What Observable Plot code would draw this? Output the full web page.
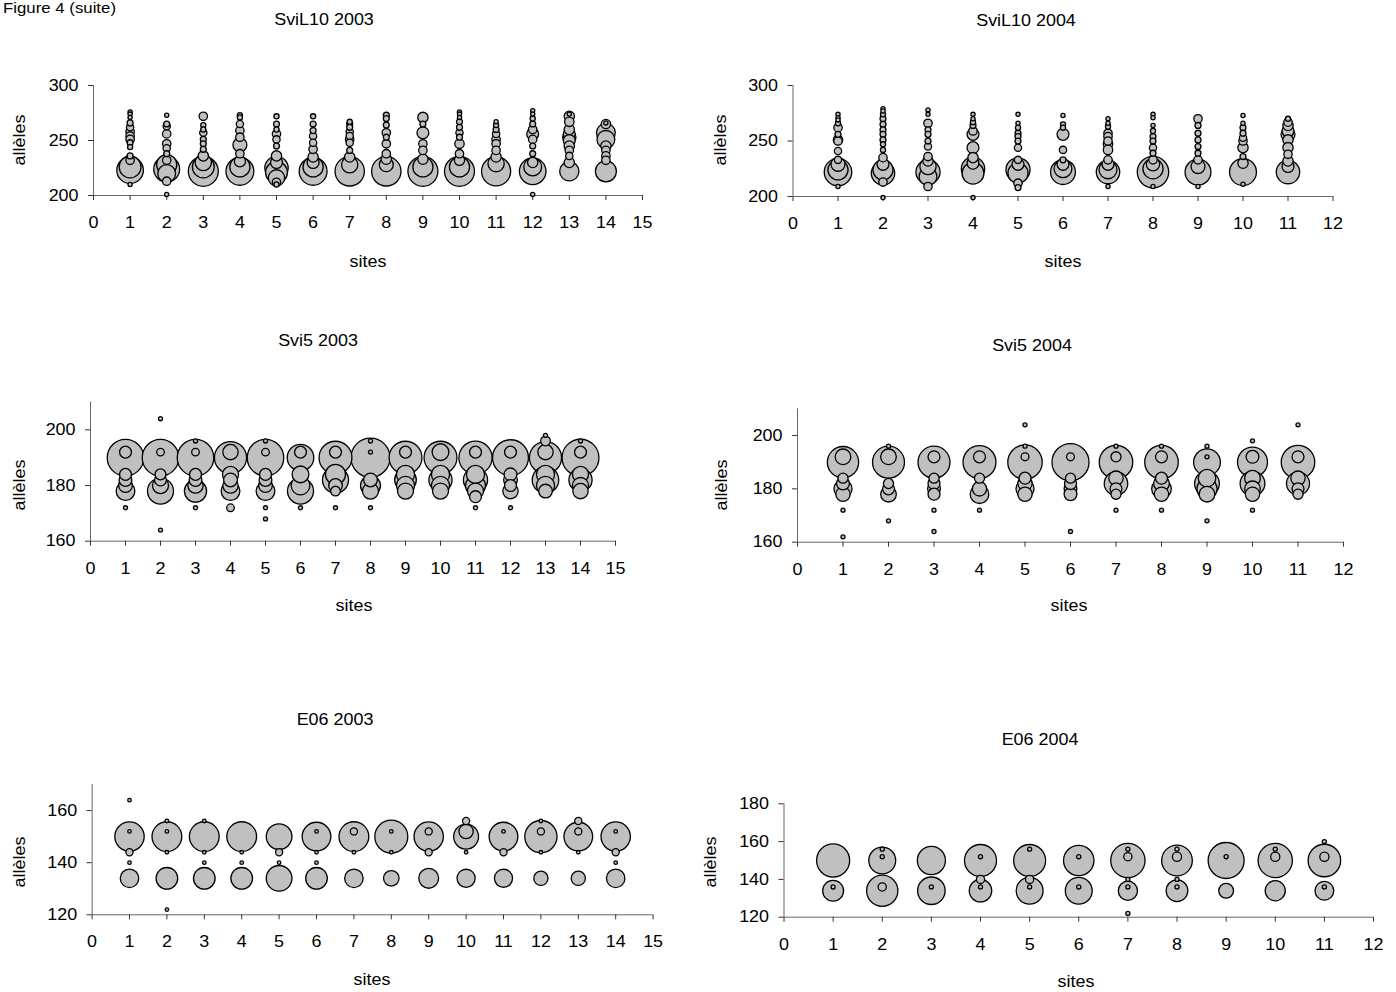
<!DOCTYPE html>
<html><head><meta charset="utf-8">
<script src="https://cdn.jsdelivr.net/npm/d3@7"></script>
<script src="https://cdn.jsdelivr.net/npm/@observablehq/plot@0.6"></script>
<style>
body{margin:0;background:#fff;font-family:"Liberation Sans",Arial,sans-serif;}
#root{position:relative;width:1396px;height:992px;overflow:hidden;background:#fff;}
#root svg{position:absolute;left:0;top:0;}
.lbl{position:absolute;font-size:16px;color:#000;white-space:nowrap;transform:translate(-50%,-50%) scaleX(1.12);}
.rot{transform:translate(-50%,-50%) rotate(-90deg) scaleX(1.12);}
.fig{position:absolute;left:3px;top:0px;font-size:15px;line-height:15px;transform-origin:0 0;transform:scaleX(1.12);white-space:nowrap;}
</style></head><body><div id="root"></div>
<script>
// Each array: one list per site (site 1, 2, ...), each entry [allele size, frequency %]
const sviL10_2003 = [
  [[276,1],[274,1],[271,1],[266,2],[262,3],[258,4],[254,4],[251,4],[248,2],[244,1.5],[236,2],[232,4],[226,27],[223,40],[210,1]],
  [[273,1],[265,2],[263,3],[256,4],[247,4],[243,3],[238,2],[232,4],[228,23],[224,38],[220,18],[213,4],[201,1]],
  [[272,4],[264,1.5],[260,1.5],[257,3],[251,2],[247,2],[242,2],[236,6],[230,15],[226,27],[222,51]],
  [[273,1.5],[271,1.5],[265,3],[259,4],[253,4],[246,11],[238,4],[231,7],[226,23],[222,44]],
  [[272,1.5],[265,2],[260,1.5],[256,4],[251,3],[245,2],[236,6],[230,8],[225,31],[221,27],[216,15],[212,4],[210,1.5]],
  [[272,1.5],[265,2],[259,2],[254,3],[248,3],[242,4],[235,6],[230,8],[226,23],[222,44]],
  [[267,1.5],[265,2],[262,2],[258,3],[254,3],[251,4],[248,3],[241,2],[235,6],[228,15],[222,49]],
  [[273,2],[270,2],[264,2],[257,4],[253,2],[247,4],[238,4],[233,6],[228,11],[222,49]],
  [[271,6],[265,2],[257,8],[247,4],[241,4],[233,6],[226,23],[222,51]],
  [[276,1],[274,1],[271,1],[267,2],[262,2],[257,3],[253,2],[247,5],[238,4],[232,6],[226,23],[222,51]],
  [[267,1],[264,1.5],[260,2],[256,3],[251,4],[247,4],[241,4],[235,6],[229,15],[222,48]],
  [[277,1],[274,1],[270,1.5],[265,2],[260,4],[256,8],[251,4],[245,2],[238,2],[230,6],[226,18],[222,40],[201,1]],
  [[274,1],[272,6],[267,5],[260,6],[256,8],[253,10],[250,8],[245,6],[241,4],[236,3],[230,6],[222,21]],
  [[266,1],[265,5],[257,20],[251,18],[245,6],[241,4],[236,4],[232,4],[222,25]]
];
const sviL10_2004 = [
  [[274,1],[271,1],[269,1],[266,1.5],[262,4],[256,2],[251,5],[250,4],[241,3],[233,3],[229,11],[224,23],[222,43],[209,1]],
  [[279,1],[277,1],[274,1.5],[270,2],[265,2],[260,2],[256,2],[251,2],[247,1.5],[242,1.5],[235,4],[229,8],[224,23],[221,31],[213,4],[199,1]],
  [[278,1],[274,1],[266,4],[260,2],[256,2],[250,2],[245,3],[236,4],[232,6],[227,15],[222,33],[218,18],[209,4]],
  [[274,1],[270,1],[267,1.5],[264,2],[259,4],[256,8],[244,8],[235,6],[230,8],[225,31],[221,27],[199,1]],
  [[274,1],[266,1],[262,1.5],[257,2],[254,2],[250,2],[244,3],[233,3],[229,8],[224,33],[221,23],[212,4],[208,2]],
  [[273,1],[265,1.5],[262,1.5],[256,8],[242,3],[233,2],[229,8],[225,18],[222,35]],
  [[270,1],[266,1],[263,1.5],[257,4],[254,4],[250,4],[247,5],[242,5],[233,4],[229,8],[224,18],[222,31],[209,1]],
  [[274,1],[271,1],[264,1],[259,1.5],[254,2],[250,2],[244,3],[239,2],[233,4],[229,10],[225,23],[222,56],[209,1]],
  [[270,4],[264,2],[257,2],[251,2],[245,2],[239,2],[233,4],[227,11],[222,38],[209,1]],
  [[273,1],[266,1],[262,2],[257,2],[253,3],[250,4],[244,6],[236,2],[230,6],[222,41],[211,1]],
  [[270,1.5],[267,4],[264,6],[259,8],[256,11],[251,6],[244,6],[238,4],[232,6],[227,8],[222,31]]
];
const svi5_2003 = [
  [[192,6],[190,57],[184,6],[182,7],[180,8],[178,15],[172,0.7]],
  [[204,0.7],[192,2.5],[190,57],[184,5],[182,6],[180,11],[178,29],[164,0.7]],
  [[196,0.7],[192,2.5],[190,57],[184,6],[182,7],[180,10],[178,21],[172,0.7]],
  [[192,10],[190,44],[184,11],[182,8],[180,10],[178,15],[172,2.5]],
  [[196,0.7],[192,2.5],[190,57],[184,6],[182,7],[180,8],[178,15],[172,0.7],[168,0.7]],
  [[192,6],[190,30],[184,12],[180,15],[178,29],[172,0.7]],
  [[192,6],[190,46],[184,17],[182,29],[180,8],[178,4],[172,0.7]],
  [[196,0.7],[192,0.7],[190,65],[182,8],[180,17],[178,11],[172,0.7]],
  [[192,6],[190,46],[184,14],[182,20],[180,14],[178,11]],
  [[192,12],[190,46],[184,14],[182,23],[180,14],[178,11]],
  [[192,6],[190,47],[184,14],[182,25],[180,17],[178,11],[176,6],[172,0.7]],
  [[192,6],[190,55],[184,7],[182,8],[180,6],[178,10],[172,0.7]],
  [[198,0.7],[196,4],[192,10],[190,44],[184,14],[182,30],[180,14],[178,8]],
  [[196,0.7],[192,6],[190,58],[184,11],[182,23],[180,11],[178,10]]
];
const svi5_2004 = [
  [[192,12],[190,48],[184,5],[182,8],[180,16],[178,10],[172,0.8],[162,0.8]],
  [[196,0.8],[192,12],[190,50],[182,5],[180,7],[178,12],[168,0.8]],
  [[192,7],[190,50],[184,5],[182,7],[180,8],[178,7],[172,0.8],[164,0.8]],
  [[192,7],[190,53],[184,5],[180,10],[178,17],[172,0.8]],
  [[204,0.8],[196,0.8],[192,3],[190,58],[184,7],[182,10],[180,16],[178,10]],
  [[192,3],[190,67],[184,5],[182,7],[180,8],[178,8],[164,0.8]],
  [[196,0.8],[192,5],[190,55],[184,10],[182,27],[180,7],[178,5],[172,0.8]],
  [[196,0.8],[192,7],[190,55],[184,7],[182,12],[180,19],[178,10],[172,0.8]],
  [[196,0.8],[192,0.8],[190,35],[184,15],[182,30],[180,20],[178,12],[168,0.8]],
  [[198,0.8],[192,8],[190,44],[184,12],[182,30],[180,12],[178,10],[172,0.8]],
  [[204,0.8],[192,7],[190,55],[184,10],[182,26],[180,7],[178,5]]
];
const e06_2003 = [
  [[164,1],[152,1],[150,68],[144,4],[140,1],[134,27]],
  [[156,1],[152,1],[150,70],[144,1],[134,37],[122,1]],
  [[156,1],[150,70],[144,1],[140,1],[134,37]],
  [[150,70],[144,1],[140,1],[134,37]],
  [[150,52],[144,4],[140,1],[134,52]],
  [[152,1],[150,65],[144,1],[140,1],[134,37]],
  [[152,4],[150,70],[144,1],[134,27]],
  [[152,1],[150,86],[144,1],[134,19]],
  [[152,4],[150,68],[144,4],[134,31]],
  [[156,4],[152,16],[150,49],[144,1],[134,26]],
  [[152,1],[150,65],[144,4],[134,26]],
  [[156,1],[152,4],[150,82],[144,1],[134,16]],
  [[156,4],[152,4],[150,65],[144,1],[134,16]],
  [[152,1],[150,68],[144,4],[140,1],[134,27]]
];
const e06_2004 = [
  [[150,65],[136,1],[134,26]],
  [[156,1],[152,1],[150,43],[136,4],[134,58]],
  [[150,47],[136,1],[134,45]],
  [[152,1],[150,61],[140,4],[136,1],[134,30]],
  [[156,1],[150,61],[140,4],[136,1],[134,43]],
  [[152,1],[150,55],[136,1],[134,43]],
  [[156,1],[152,4],[150,70],[140,1],[136,1],[134,22],[122,1]],
  [[156,1],[152,5],[150,56],[140,1],[136,1],[134,28]],
  [[152,1],[150,77],[134,13]],
  [[156,1],[152,5],[150,70],[134,24]],
  [[160,1],[152,5],[150,63],[136,1],[134,21]]
];
const xTicks15 = [0,1,2,3,4,5,6,7,8,9,10,11,12,13,14,15];
const xTicks12 = [0,1,2,3,4,5,6,7,8,9,10,11,12];
const yTicksSviL10 = [200,250,300];
const yTicksSvi5 = [160,180,200];
const yTicksE06a = [120,140,160];
const yTicksE06b = [120,140,160,180];

const W = 1396, H = 992;
const root = document.getElementById("root");
const STRETCH = 1.12;

function rowsOf(arr){
  return arr.flatMap((list, i) => list.map(([allele, freq]) => ({site: i + 1, allele, freq})));
}

function label(text, x, y, cls){
  const d = document.createElement("div");
  d.className = "lbl" + (cls ? " " + cls : "");
  d.style.left = x + "px"; d.style.top = y + "px";
  d.textContent = text;
  root.appendChild(d);
}

function panel(data, c){
  const svg = Plot.plot({
    width: W, height: H,
    marginLeft: c.x0, marginRight: W - c.x1,
    marginTop: c.yTop, marginBottom: H - c.yBot,
    x: {domain: [0, c.xTicks[c.xTicks.length - 1]]},
    y: {domain: c.yDomain},
    r: {type: "sqrt", domain: [0, 100], range: [0, c.rk]},
    style: {fontFamily: "Liberation Sans, Arial, sans-serif", fontSize: "16px", background: "transparent", color: "#000", overflow: "visible"},
    marks: [
      Plot.ruleY([c.yDomain[0]], {stroke: "#666", strokeWidth: 1}),
      Plot.ruleX([0], {y1: c.yDomain[0], y2: c.yDomain[1], stroke: "#666", strokeWidth: 1}),
      Plot.axisX({ticks: c.xTicks, tickSize: 5, tickPadding: 16, label: null, tickFormat: d => String(d), stroke: "#333"}),
      Plot.axisY({ticks: c.yTicks, tickSize: 5, tickPadding: 10, label: null, tickFormat: d => String(d), stroke: "#333"}),
      Plot.dot(rowsOf(data), {x: "site", y: "allele", r: "freq", fill: "#c0c0c0", stroke: "#000", strokeWidth: 1.3})
    ]
  });
  d3.select(svg).selectAll('g[aria-label$="tick label"] text').each(function(){
    const t = this.getAttribute("transform") || "";
    this.setAttribute("transform", t + " scale(" + STRETCH + ",1)");
  });
  root.appendChild(svg);
  label(c.title, c.title_xy[0], c.title_xy[1]);
  label("sites", c.sites_xy[0], c.sites_xy[1]);
  label("allèles", c.yl_xy[0], c.yl_xy[1], "rot");
}

const fig = document.createElement("div");
fig.className = "fig"; fig.textContent = "Figure 4 (suite)";
root.appendChild(fig);

panel(sviL10_2003, {title: "SviL10 2003", x0: 93, x1: 642, yTop: 85, yBot: 195, yDomain: [200, 300], xTicks: xTicks15, yTicks: yTicksSviL10, rk: 21,
  title_xy: [324, 20], sites_xy: [368, 262], yl_xy: [20, 140]});
panel(sviL10_2004, {title: "SviL10 2004", x0: 792.5, x1: 1332.5, yTop: 85, yBot: 196, yDomain: [200, 300], xTicks: xTicks12, yTicks: yTicksSviL10, rk: 21,
  title_xy: [1026, 21], sites_xy: [1063, 262], yl_xy: [721, 140]});
panel(svi5_2003, {title: "Svi5 2003", x0: 90, x1: 615, yTop: 401.5, yBot: 540.7, yDomain: [160, 210], xTicks: xTicks15, yTicks: yTicksSvi5, rk: 24.2,
  title_xy: [318, 341], sites_xy: [354, 606], yl_xy: [20, 485]});
panel(svi5_2004, {title: "Svi5 2004", x0: 797, x1: 1343, yTop: 408.3, yBot: 541.7, yDomain: [160, 210], xTicks: xTicks12, yTicks: yTicksSvi5, rk: 22.6,
  title_xy: [1032, 346], sites_xy: [1069, 606], yl_xy: [722, 485]});
panel(e06_2003, {title: "E06 2003", x0: 91.6, x1: 652.6, yTop: 784, yBot: 914.3, yDomain: [120, 170], xTicks: xTicks15, yTicks: yTicksE06a, rk: 17.8,
  title_xy: [335, 720], sites_xy: [372, 980], yl_xy: [20, 862]});
panel(e06_2004, {title: "E06 2004", x0: 783.5, x1: 1373, yTop: 803.3, yBot: 916.7, yDomain: [120, 180], xTicks: xTicks12, yTicks: yTicksE06b, rk: 20.5,
  title_xy: [1040, 740], sites_xy: [1076, 982], yl_xy: [711, 862]});
</script>
</body></html>
